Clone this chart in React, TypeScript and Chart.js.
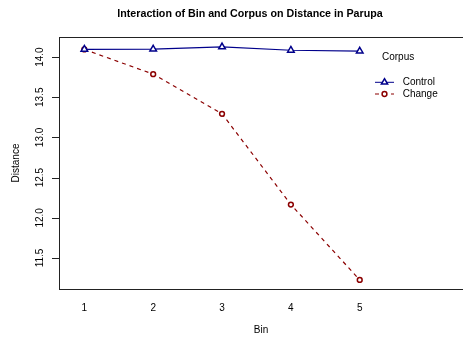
import React, { useEffect, useRef } from "react";
import { Chart, registerables } from "chart.js";

Chart.register(...registerables);

const chartTitle = "Interaction of Bin and Corpus on Distance in Parupa";
const xAxisTitle = "Bin";
const yAxisTitle = "Distance";
const legendTitle = "Corpus";
const bins = [1, 2, 3, 4, 5];
const binLabels = ["1", "2", "3", "4", "5"];
const seriesNames = ["Control", "Change"];
const controlValues = [14.097, 14.1, 14.127, 14.085, 14.075];
const changeValues = [14.095, 13.788, 13.294, 12.165, 11.227];
const yTicks = [11.5, 12.0, 12.5, 13.0, 13.5, 14.0];
const yTickLabels = ["11.5", "12.0", "12.5", "13.0", "13.5", "14.0"];
const seriesColors = ["#00008B", "#8B0000"];

const FONT = "'Liberation Sans', Arial, Helvetica, sans-serif";

const decorPlugin = {
  id: "decor",
  afterDraw(chart: any) {
    const ctx = chart.ctx as CanvasRenderingContext2D;
    const area = chart.chartArea;
    const yScale = chart.scales.y;
    ctx.save();
    // top border of the box
    ctx.strokeStyle = "#222";
    ctx.lineWidth = 1;
    ctx.beginPath();
    ctx.moveTo(area.left, Math.round(area.top) + 0.5);
    ctx.lineTo(area.right, Math.round(area.top) + 0.5);
    ctx.stroke();

    // y tick marks and vertical labels
    ctx.fillStyle = "#000";
    ctx.font = `10px ${FONT}`;
    ctx.textAlign = "center";
    ctx.textBaseline = "middle";
    yTicks.forEach((v, i) => {
      const py = yScale.getPixelForValue(v);
      const ly = Math.round(py) + 0.5;
      ctx.beginPath();
      ctx.moveTo(area.left - 7, ly);
      ctx.lineTo(area.left, ly);
      ctx.stroke();
      ctx.save();
      ctx.translate(area.left - 19, py);
      ctx.rotate(-Math.PI / 2);
      ctx.fillText(yTickLabels[i], 0, 0);
      ctx.restore();
    });

    // main title
    ctx.font = `bold 10.7px ${FONT}`;
    ctx.textAlign = "center";
    ctx.textBaseline = "middle";
    ctx.fillText(chartTitle, 250, 14);

    // legend
    ctx.font = `10px ${FONT}`;
    ctx.textAlign = "left";
    ctx.fillText(legendTitle, 382, 57);
    const rows = [82.3, 94];
    rows.forEach((ry, i) => {
      ctx.strokeStyle = seriesColors[i];
      ctx.lineWidth = 1;
      ctx.setLineDash(i === 1 ? [4, 4] : []);
      ctx.beginPath();
      ctx.moveTo(375, ry);
      ctx.lineTo(394, ry);
      ctx.stroke();
      ctx.setLineDash([]);
      ctx.lineWidth = 1.5;
      ctx.fillStyle = "#fff";
      ctx.beginPath();
      if (i === 0) {
        const r = 3.6;
        ctx.moveTo(384.5, ry - r);
        ctx.lineTo(384.5 + r * 0.866, ry + r / 2);
        ctx.lineTo(384.5 - r * 0.866, ry + r / 2);
        ctx.closePath();
      } else {
        ctx.arc(384.5, ry, 2.4, 0, Math.PI * 2);
      }
      ctx.fill();
      ctx.stroke();
      ctx.fillStyle = "#000";
      ctx.fillText(seriesNames[i], 402.7, ry);
    });
    ctx.restore();
  },
};

export default function App() {
  const ref = useRef<HTMLCanvasElement | null>(null);
  useEffect(() => {
    if (!ref.current) return;
    const chart = new Chart(ref.current, {
      type: "line",
      data: {
        datasets: [
          {
            label: seriesNames[0],
            data: bins.map((b, i) => ({ x: b, y: controlValues[i] })),
            borderColor: seriesColors[0],
            borderWidth: 1.2,
            pointStyle: "triangle",
            pointRadius: 3.8,
            pointBorderWidth: 1.5,
            pointBackgroundColor: "#fff",
            pointBorderColor: seriesColors[0],
            tension: 0,
          },
          {
            label: seriesNames[1],
            data: bins.map((b, i) => ({ x: b, y: changeValues[i] })),
            borderColor: seriesColors[1],
            borderWidth: 1.2,
            borderDash: [4, 4],
            pointStyle: "circle",
            pointRadius: 2.4,
            pointBorderWidth: 1.5,
            pointBackgroundColor: "#fff",
            pointBorderColor: seriesColors[1],
            tension: 0,
          },
        ],
      },
      options: {
        responsive: false,
        animation: false,
        layout: { autoPadding: false, padding: { top: 37, left: 0, right: 0, bottom: 0 } },
        plugins: {
          legend: { display: false },
          tooltip: { enabled: false },
          title: { display: false },
        },
        scales: {
          x: {
            type: "linear",
            min: 0.632,
            max: 6.5,
            afterBuildTicks: (scale: any) => {
              scale.ticks = bins.map((v) => ({ value: v }));
            },
            afterFit: (scale: any) => {
              scale.height = 51;
            },
            grid: { display: false, drawTicks: false },
            border: { display: true, color: "#222", width: 1 },
            ticks: {
              color: "#000",
              padding: 13.5,
              font: { family: FONT, size: 10 },
              callback: (v: any) => {
                const i = bins.indexOf(Number(v));
                return i >= 0 ? binLabels[i] : "";
              },
            },
            title: {
              display: true,
              text: xAxisTitle,
              color: "#000",
              font: { family: FONT, size: 10 },
              padding: { top: 0, bottom: 3.3 },
            },
          },
          y: {
            type: "linear",
            min: 11.114,
            max: 14.25,
            afterBuildTicks: (scale: any) => {
              scale.ticks = yTicks.map((v) => ({ value: v }));
            },
            afterFit: (scale: any) => {
              scale.width = 59;
            },
            grid: { display: false, drawOnChartArea: false, drawTicks: false },
            border: { display: true, color: "#222", width: 1 },
            ticks: { display: false },
            title: {
              display: true,
              text: yAxisTitle,
              color: "#000",
              font: { family: FONT, size: 10 },
              padding: { top: 10.7, bottom: 0 },
            },
          },
        },
      },
      plugins: [decorPlugin],
    });
    return () => chart.destroy();
  }, []);
  return (
    <div style={{ position: "fixed", left: 0, top: 0, width: 463, height: 340, background: "#fff" }}>
      <canvas ref={ref} width={463} height={340} style={{ display: "block" }} />
    </div>
  );
}
